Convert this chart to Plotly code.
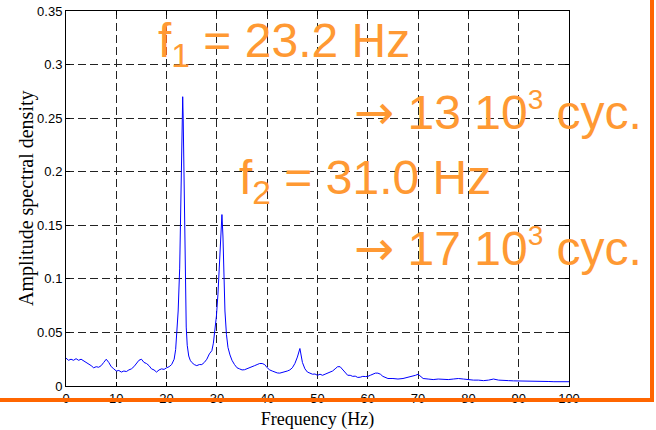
import plotly.graph_objects as go

# Amplitude spectrum of the measured response
freq_hz = [
    0.0, 0.5, 1.0, 1.5, 2.0, 2.5, 3.0, 3.5, 4.0, 4.5, 5.0, 5.5, 6.0, 6.5, 7.0, 7.5,
    8.0, 8.5, 9.0, 9.5, 10.0, 10.5, 11.0, 11.5, 12.0, 12.5, 13.0, 13.5, 14.0, 14.5,
    15.0, 15.5, 16.0, 16.5, 17.0, 17.5, 18.0, 18.5, 19.0, 19.5, 20.0, 20.5, 21.0,
    21.5, 21.8, 22.0, 22.3, 22.6, 22.9, 23.1, 23.2, 23.3, 23.5, 23.7, 23.9, 24.1,
    24.4, 24.7, 25.0, 25.5, 26.0, 26.5, 27.0, 27.5, 28.0, 28.5, 29.0, 29.3, 29.6,
    29.9, 30.2, 30.5, 30.8, 31.0, 31.2, 31.4, 31.6, 31.9, 32.2, 32.6, 33.0, 33.5,
    34.0, 34.5, 35.0, 35.5, 36.0, 36.5, 37.0, 37.5, 38.0, 38.5, 39.0, 39.5, 40.0,
    40.5, 41.0, 41.5, 42.0, 42.5, 43.0, 43.5, 44.0, 44.5, 45.0, 45.5, 46.0, 46.5,
    46.8, 47.0, 47.5, 48.0, 48.5, 49.0, 49.5, 50.0, 50.5, 51.0, 51.5, 52.0, 52.5,
    53.0, 53.5, 54.0, 54.5, 55.0, 55.5, 56.0, 56.5, 57.0, 57.5, 58.0, 58.5, 59.0,
    59.5, 60.0, 60.5, 61.0, 61.5, 62.0, 62.5, 63.0, 63.5, 64.0, 65.0, 66.0, 67.0,
    68.0, 69.0, 69.5, 70.0, 70.5, 71.0, 72.0, 73.0, 74.0, 75.0, 76.0, 77.0, 78.0,
    79.0, 80.0, 81.0, 82.0, 83.0, 84.0, 85.0, 86.0, 87.0, 88.0, 89.0, 90.0, 91.0,
    92.0, 93.0, 94.0, 95.0, 96.0, 97.0, 98.0, 99.0, 100.0,
]
amplitude = [
    0.026, 0.024, 0.025, 0.024, 0.0255, 0.024, 0.025, 0.0235, 0.022, 0.021, 0.019, 0.017, 0.018, 0.0175, 0.019, 0.022,
    0.025, 0.022, 0.018, 0.016, 0.014, 0.0145, 0.013, 0.014, 0.0135, 0.015, 0.016, 0.018, 0.021, 0.024,
    0.025, 0.022, 0.021, 0.019, 0.016, 0.015, 0.013, 0.015, 0.016, 0.0155, 0.017, 0.018, 0.020,
    0.025, 0.034, 0.05, 0.07, 0.11, 0.19, 0.255, 0.27, 0.25, 0.17, 0.10, 0.055, 0.038,
    0.028, 0.024, 0.022, 0.020, 0.019, 0.020, 0.020, 0.022, 0.025, 0.030, 0.033, 0.040, 0.050,
    0.065, 0.085, 0.11, 0.145, 0.16, 0.14, 0.10, 0.07, 0.048, 0.036, 0.029, 0.024, 0.020,
    0.017, 0.016, 0.015, 0.0152, 0.016, 0.017, 0.018, 0.019, 0.020, 0.021, 0.021, 0.020, 0.017,
    0.015, 0.014, 0.013, 0.0122, 0.012, 0.0125, 0.013, 0.014, 0.015, 0.017, 0.021, 0.027, 0.035,
    0.029, 0.022, 0.016, 0.013, 0.012, 0.011, 0.0112, 0.010, 0.011, 0.010, 0.011, 0.012, 0.013,
    0.014, 0.016, 0.018, 0.018, 0.015, 0.012, 0.010, 0.010, 0.009, 0.0092, 0.008, 0.0082, 0.009,
    0.0088, 0.009, 0.010, 0.011, 0.012, 0.012, 0.011, 0.009, 0.008, 0.007, 0.007, 0.0065, 0.007,
    0.008, 0.009, 0.010, 0.011, 0.009, 0.007, 0.0065, 0.006, 0.0065, 0.006, 0.006, 0.0065, 0.007,
    0.0065, 0.0058, 0.0055, 0.0055, 0.005, 0.0055, 0.0065, 0.0055, 0.005, 0.005, 0.0048, 0.0048, 0.0047,
    0.0048, 0.0045, 0.0043, 0.0044, 0.0042, 0.004, 0.004, 0.0041, 0.004,
]

x_ticks = [0, 10, 20, 30, 40, 50, 60, 70, 80, 90, 100]
y_ticks = [0, 0.05, 0.1, 0.15, 0.2, 0.25, 0.3, 0.35]
y_tick_text = ["0", "0.05", "0.1", "0.15", "0.2", "0.25", "0.3", "0.35"]

ARROW = '<span style="font-family:DejaVu Sans">\u2192</span>'
SUP3 = '<sup><span style="font-size:28px">3</span></sup>'
notes = [
    "f<sub>1</sub> = 23.2 Hz",
    ARROW + " 13 10" + SUP3 + " cyc.",
    "f<sub>2</sub> = 31.0 Hz",
    ARROW + " 17 10" + SUP3 + " cyc.",
]

FIG_W, FIG_H = 656, 430
L, R, T, B = 66, 87, 11, 44
PW, PH = FIG_W - L - R, FIG_H - T - B


def px_x(px):
    return (px - L) / PW


def px_y(py):
    return (FIG_H - B - py) / PH


fig = go.Figure()
fig.add_trace(go.Scatter(
    x=freq_hz, y=amplitude, mode="lines",
    line=dict(color="#0000FF", width=1),
    showlegend=False, hoverinfo="skip",
))

tick_font = dict(family="Liberation Sans Narrow, Liberation Sans, Arial", size=13, color="#000")
serif = "Liberation Serif, Times New Roman, serif"

axis_common = dict(
    showline=True, linecolor="#000", linewidth=1, mirror="allticks",
    ticks="inside", ticklen=4, tickcolor="#000",
    showgrid=True, gridcolor="#222", gridwidth=1, griddash="8px,4px",
    zeroline=False, tickfont=tick_font, automargin=False,
)

fig.update_xaxes(
    range=[0, 100], tickvals=x_ticks, ticktext=[str(v) for v in x_ticks],
    title=dict(text="Frequency (Hz)", font=dict(family=serif, size=18, color="#000"), standoff=8),
    **axis_common,
)
fig.update_yaxes(
    range=[0, 0.35], tickvals=y_ticks, ticktext=y_tick_text,
    **axis_common,
)

# vertical axis title, placed close to the tick labels
fig.add_annotation(
    text="Amplitude spectral density", textangle=-90,
    xref="paper", yref="paper", x=px_x(26), y=px_y(198),
    xanchor="center", yanchor="middle", showarrow=False,
    font=dict(family=serif, size=20, color="#000"),
)

note_font = dict(family="Liberation Sans, Arial", size=48, color="#FF9933")
note_pos = [(156, 44), (352, 112), (237, 181), (352, 248)]
for text, (nx, ny) in zip(notes, note_pos):
    fig.add_annotation(
        text=text, xref="paper", yref="paper", x=px_x(nx), y=px_y(ny),
        xanchor="left", yanchor="middle", showarrow=False, font=note_font,
    )

# orange frame on the right and bottom
frame = dict(color="#FF6600", width=4)
fig.add_shape(type="line", xref="paper", yref="paper",
              x0=px_x(0), x1=px_x(654), y0=px_y(400), y1=px_y(400), line=frame, layer="above")
fig.add_shape(type="line", xref="paper", yref="paper",
              x0=px_x(652), x1=px_x(652), y0=px_y(0), y1=px_y(402), line=frame, layer="above")

fig.update_layout(
    width=FIG_W, height=FIG_H,
    margin=dict(l=L, r=R, t=T, b=B),
    paper_bgcolor="white", plot_bgcolor="white",
)

fig.write_html("out.html")
